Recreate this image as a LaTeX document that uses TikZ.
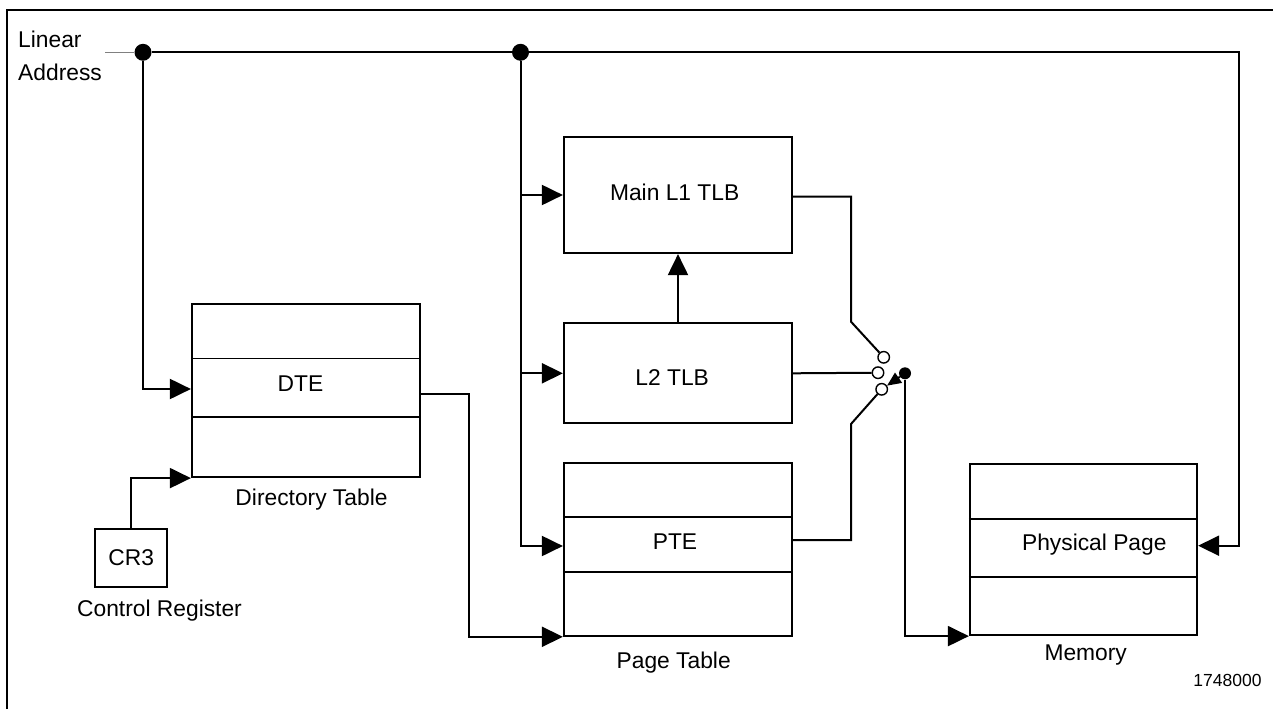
\documentclass[tikz,border=0pt]{standalone}
\usepackage{fontspec}
\setmainfont{Liberation Sans}
\usetikzlibrary{arrows.meta,calc}
\begin{document}
\begin{tikzpicture}[x=1pt,y=-1pt,
  box/.style={draw, line width=2.2pt, rectangle, inner sep=0pt},
  lbl/.style={anchor=base, inner sep=0pt, font=\fontsize{22.8}{27}\selectfont},
  wire/.style={line width=2pt},
  arr/.style={wire, -{Triangle[length=21pt,width=20pt]}},
  smallarr/.style={wire, -{Triangle[length=14pt,width=12pt]}},
  dot/.style={circle, fill, inner sep=0pt, minimum size=17pt},
  sdot/.style={circle, fill, inner sep=0pt, minimum size=12pt},
  port/.style={circle, draw, fill=white, line width=1.4pt, inner sep=0pt, minimum size=11.5pt},
  divider/.style={line width=2pt},
  thindivider/.style={line width=1.1pt}]
\useasboundingbox (0,0) rectangle (1273,709);
% outer frame
\draw[line width=2pt] (7,709) -- (7,10) -- (1273,10);

% boxes
\node[box, minimum width=228pt, minimum height=173pt] (dt) at (306,390.5) {};
\node[box, minimum width=72pt, minimum height=58pt] (cr3) at (131,558) {};
\node[box, minimum width=228pt, minimum height=116pt] (l1) at (678,195) {};
\node[box, minimum width=228pt, minimum height=100pt] (l2) at (678,373.3) {};
\node[box, minimum width=228pt, minimum height=172.4pt] (pt) at (678,549.5) {};
\node[box, minimum width=227pt, minimum height=171pt] (mem) at (1083.5,549.5) {};

% table dividers
\draw[thindivider] (dt.west |- 0,358.3) -- (dt.east |- 0,358.3);
\draw[divider] (dt.west |- 0,416.7) -- (dt.east |- 0,416.7);
\draw[divider] (pt.west |- 0,516.7) -- (pt.east |- 0,516.7);
\draw[divider] (pt.west |- 0,571.7) -- (pt.east |- 0,571.7);
\draw[divider] (mem.west |- 0,519) -- (mem.east |- 0,519);
\draw[divider] (mem.west |- 0,576.7) -- (mem.east |- 0,576.7);

% texts
\node[anchor=north west, inner sep=0pt, align=left, font=\fontsize{22.8}{33.3}\selectfont] (tla) at (18,30.4) {Linear\\Address};
\node[lbl] (tdte) at (300.5,391) {DTE};
\node[lbl] (tdt) at (311.5,505) {Directory Table};
\node[lbl] (tcr3) at (131.3,565.7) {CR3};
\node[lbl] (tcr) at (159.5,616.7) {Control Register};
\node[lbl] (tl1) at (674.7,200.7) {Main L1 TLB};
\node[lbl] (tl2) at (672.2,385) {L2 TLB};
\node[lbl] (tpte) at (675,549) {PTE};
\node[lbl] (tpt) at (673.7,668.3) {Page Table};
\node[lbl] (tpp) at (1094.3,550) {Physical Page};
\node[lbl] (tmem) at (1085.7,660) {Memory};
\node[anchor=base east, inner sep=0pt, font=\fontsize{17.5}{20}\selectfont] (tid) at (1261.7,686.7) {1748000};

% junctions and switch
\node[dot] (J1) at (143,52.3) {};
\node[dot] (J2) at (520.5,52.3) {};
\node[port] (c1) at (883.7,357.3) {};
\node[port] (c2) at (878,372.7) {};
\node[port] (c3) at (881.7,389.3) {};
\node[sdot] (sw) at (905,373.3) {};
\coordinate (stub) at (105,52.3);
\coordinate (tr) at (1239,52.3);

% connectors
\draw[line width=1.2pt, gray] (stub) -- (J1);
\draw[wire] (J1) -- (J2);
\draw[arr] (J2) -- (tr) |- (mem.east |- 0,545.7);
\draw[arr] (J1) |- (dt.west |- 0,389);
\draw[arr] (cr3.north) |- (dt.south west);
\draw[arr] (dt.east |- 0,394) -- (469,394) |- (pt.south west);
\draw[arr] (J2) |- (pt.west |- 0,546);
\draw[arr] (J2 |- l1.west) -- (l1.west);
\draw[arr] (J2 |- l2.west) -- (l2.west);
\draw[arr] (l2.north) -- (l1.south);
\draw[wire] (l1.east |- 0,196.7) -- (851,196.7) -- (851,321.7) -- (c1);
\draw[wire] (l2.east) -- (c2);
\draw[wire] (pt.east |- 0,540) -- (851,540) -- (851,424) -- (c3);
\draw[smallarr] (sw) -- (c3);
\draw[arr] (sw) |- (mem.south west);
\end{tikzpicture}
\end{document}
